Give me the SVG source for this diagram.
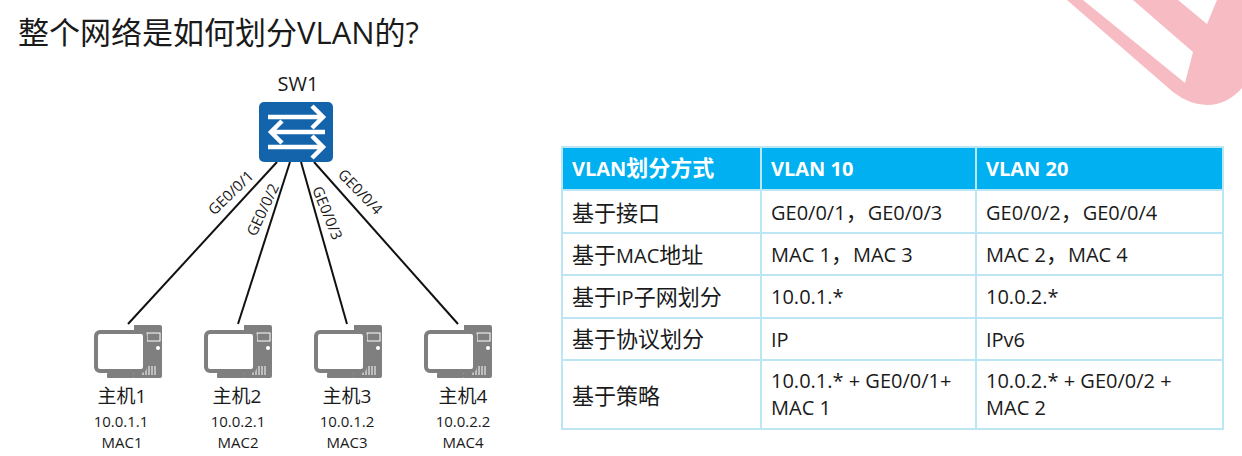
<svg xmlns="http://www.w3.org/2000/svg" width="1242" height="456" viewBox="0 0 1242 456">
<style>
text{font-family:"Open Sans","Noto Sans CJK SC",sans-serif;fill:#1a1a1a}
.t{font-size:20px}
.c{font-size:22px;font-family:"Noto Sans CJK SC",sans-serif}
.h{font-size:20px;font-weight:700;fill:#fff}
.host{font-size:19px;text-anchor:middle}
.sm{font-size:15px;text-anchor:middle}
.port{font-size:15px;text-anchor:middle}
.link{stroke:#111;stroke-width:2;fill:none}
.grid{stroke:#bde6f5;stroke-width:2;fill:none}
</style>
<defs>
<g id="pc">
<path d="M40 0H66Q68 0 68 2V51Q68 53 66 53H40Z" fill="#7f7f7f"/>
<rect x="53" y="8" width="13" height="8" fill="none" stroke="#fff" stroke-width="1"/>
<circle cx="64" cy="23" r="2" fill="#fff"/>
<path d="M49 50V41M52 50V41M55 50V41M58 50V41M61 50V41" stroke="#fff" stroke-width="1"/>
<rect x="2" y="7" width="49" height="39" rx="4" fill="#fff" stroke="#7f7f7f" stroke-width="4"/>
<rect x="19" y="47" width="15" height="4" fill="#7f7f7f"/>
<rect x="13" y="48" width="27" height="5" rx="1" fill="#7f7f7f"/>
</g>
</defs>
<g id="decoration">
<path fill="#f7bcc3" fill-rule="evenodd" d="M1067 0L1173 92Q1190 105 1207 105Q1227 105 1242 88V0ZM1083 0L1185 83L1193 52L1133 0ZM1178 0L1207 24L1217 0Z"/>
</g>
<text id="title" x="18" y="44" style="font-size:31px">整个网络是如何划分VLAN的?</text>
<g id="connectors">
<line class="link" x1="277" y1="162" x2="128" y2="324"/>
<line class="link" x1="290" y1="162" x2="238" y2="324"/>
<line class="link" x1="301" y1="162" x2="347" y2="324"/>
<line class="link" x1="314" y1="162" x2="458" y2="324"/>
</g>
<g id="port-labels">
<text class="port" transform="translate(234.5 196.5) rotate(-44)">GE0/0/1</text>
<text class="port" transform="translate(267.5 212) rotate(-65)">GE0/0/2</text>
<text class="port" transform="translate(322.5 215) rotate(68)">GE0/0/3</text>
<text class="port" transform="translate(356.5 195.5) rotate(46)">GE0/0/4</text>
</g>
<g id="SW1">
<text x="298" y="91" text-anchor="middle" style="font-size:20px">SW1</text>
<rect x="259" y="102" width="74" height="60" rx="5" fill="#1464ab"/>
<g fill="none" stroke="#fff" stroke-width="4.5">
<path d="M268 117H321M312 106L323 117L312 128"/>
<path d="M325 132H272M282 121L271 132L282 143"/>
<path d="M268 147H321M312 136L323 147L312 158"/>
</g>
</g>
<g id="host1"><use href="#pc" x="94" y="325"/><text class="host" x="122" y="403">主机1</text><text class="sm" x="121" y="427">10.0.1.1</text><text class="sm" x="122" y="448">MAC1</text></g>
<g id="host2"><use href="#pc" x="204" y="325"/><text class="host" x="237" y="403">主机2</text><text class="sm" x="238" y="427">10.0.2.1</text><text class="sm" x="238" y="448">MAC2</text></g>
<g id="host3"><use href="#pc" x="314" y="325"/><text class="host" x="347" y="403">主机3</text><text class="sm" x="347" y="427">10.0.1.2</text><text class="sm" x="347" y="448">MAC3</text></g>
<g id="host4"><use href="#pc" x="424" y="325"/><text class="host" x="463" y="403">主机4</text><text class="sm" x="463" y="427">10.0.2.2</text><text class="sm" x="463" y="448">MAC4</text></g>
<g id="table">
<rect x="562" y="147" width="661" height="43" fill="#00b0f0"/>
<path class="grid" d="M562 147H1223V429H562ZM562 190H1223M562 233H1223M562 275H1223M562 318H1223M562 360H1223M761 147V429M976 147V429"/>
<text class="h" x="572" y="176">VLAN<tspan class="c">划分方式</tspan></text><text class="h" x="771" y="176">VLAN 10</text><text class="h" x="986" y="176">VLAN 20</text>
<text class="t" x="572" y="221"><tspan class="c">基于接口</tspan></text><text class="t" x="771" y="220">GE0/0/1<tspan class="c">&#xFF0C;</tspan>GE0/0/3</text><text class="t" x="986" y="220">GE0/0/2<tspan class="c">&#xFF0C;</tspan>GE0/0/4</text>
<text class="t" x="572" y="263"><tspan class="c">基于</tspan>MAC<tspan class="c">地址</tspan></text><text class="t" x="771" y="262">MAC 1<tspan class="c">&#xFF0C;</tspan>MAC 3</text><text class="t" x="986" y="262">MAC 2<tspan class="c">&#xFF0C;</tspan>MAC 4</text>
<text class="t" x="572" y="305"><tspan class="c">基于</tspan>IP<tspan class="c">子网划分</tspan></text><text class="t" x="771" y="304">10.0.1.*</text><text class="t" x="986" y="304">10.0.2.*</text>
<text class="t" x="572" y="347"><tspan class="c">基于协议划分</tspan></text><text class="t" x="771" y="347">IP</text><text class="t" x="986" y="347">IPv6</text>
<text class="t" x="572" y="404"><tspan class="c">基于策略</tspan></text><text class="t" x="771" y="388">10.0.1.* + GE0/0/1+</text><text class="t" x="771" y="415">MAC 1</text><text class="t" x="986" y="388">10.0.2.* + GE0/0/2 +</text><text class="t" x="986" y="415">MAC 2</text>
</g>
</svg>
